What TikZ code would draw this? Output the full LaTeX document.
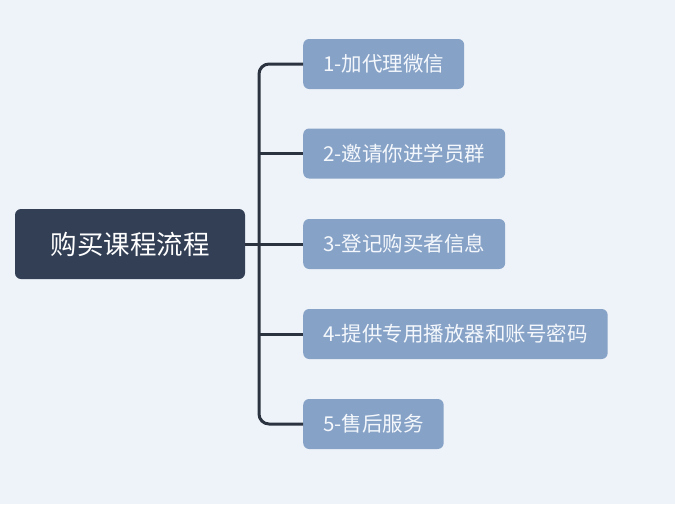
\documentclass[tikz,border=0pt]{standalone}
\usepackage{fontspec}
\newfontfamily\cjk{Noto Sans CJK SC}
\definecolor{bgc}{HTML}{EEF3F9}
\definecolor{rootc}{HTML}{333F55}
\definecolor{childc}{HTML}{87A2C7}
\definecolor{linec}{HTML}{2C3340}
\definecolor{childtext}{HTML}{F4F8FC}
\tikzset{
  rootbox/.style={fill=rootc, rounded corners=6pt, minimum width=230pt, minimum height=70pt, inner sep=0pt, text=white, font=\cjk\fontsize{26.5}{30}\selectfont},
  childbox/.style={fill=childc, rounded corners=6pt, minimum height=50pt, inner xsep=20pt, inner ysep=0pt, anchor=west, text=childtext, font=\cjk\fontsize{20.5}{24}\selectfont},
  conn/.style={draw=linec, line width=3pt}
}
\begin{document}
\begin{tikzpicture}[x=1pt,y=-1pt]
\fill[bgc] (0,0) rectangle (675,504);
\useasboundingbox (0,0) rectangle (675,504);
\coordinate (tx) at (259,0);
\node[rootbox] (root) at (130,244) {购买课程流程};
\node[childbox] (c1) at (303,64) {1-加代理微信};
\node[childbox] (c2) at (303,153.5) {2-邀请你进学员群};
\node[childbox] (c3) at (303,244) {3-登记购买者信息};
\node[childbox] (c4) at (303,334) {4-提供专用播放器和账号密码};
\node[childbox] (c5) at (303,424) {5-售后服务};
\draw[conn, rounded corners=10pt] (c1.west) -- (tx |- c1.west) -- (tx |- c5.west) -- (c5.west);
\draw[conn] (tx |- c2.west) -- (c2.west);
\draw[conn] (tx |- c4.west) -- (c4.west);
\draw[conn] (root.east) -- (c3.west);
\end{tikzpicture}
\end{document}
